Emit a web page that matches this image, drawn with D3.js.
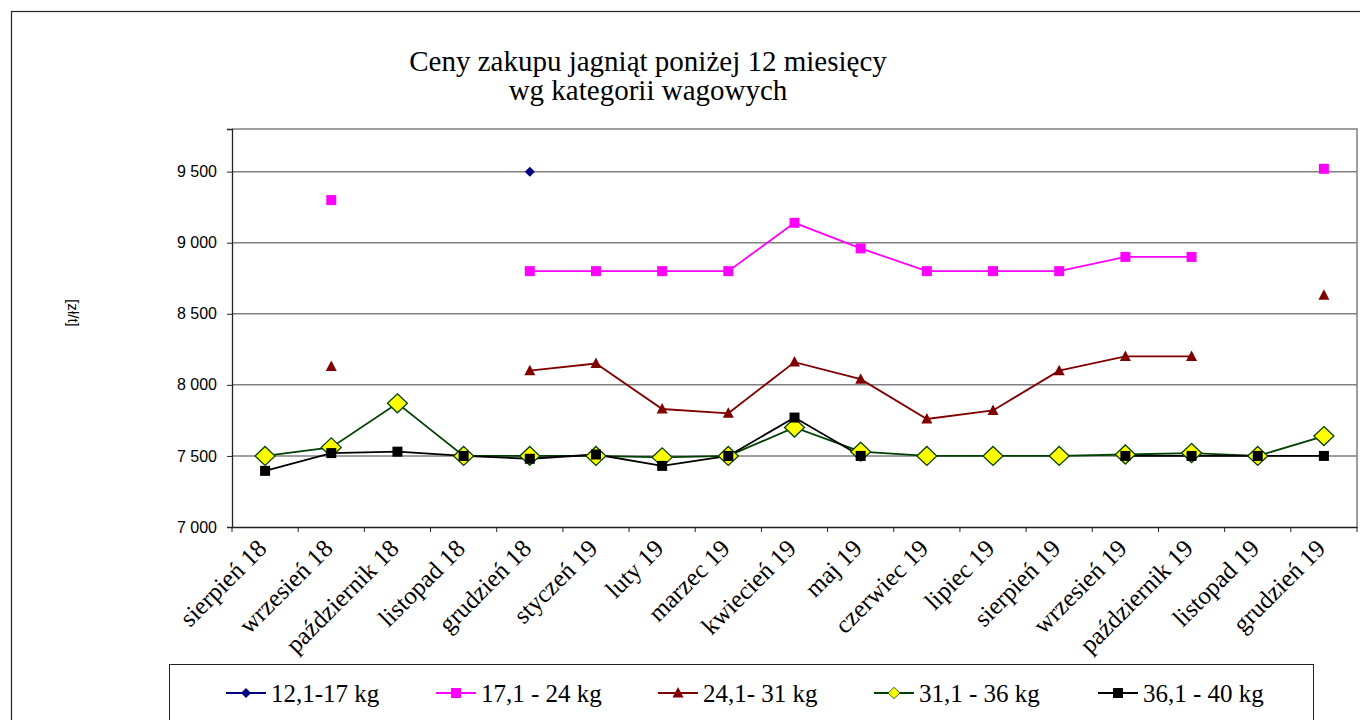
<html lang="pl">
<head>
<meta charset="utf-8">
<style>
  body { margin: 0; background: #fff; }
  svg { display: block; }
</style>
</head>
<body>
<script type='text/javascript' src='https://d3js.org/d3.v7.min.js'></script>
<script>
    // dane
    var months = ["sierpień 18", "wrzesień 18", "październik 18", "listopad 18", "grudzień 18",
        "styczeń 19", "luty 19", "marzec 19", "kwiecień 19", "maj 19", "czerwiec 19", "lipiec 19",
        "sierpień 19", "wrzesień 19", "październik 19", "listopad 19", "grudzień 19"];
    var kg12_17 = [null, null, null, null, 9500, null, null, null, null, null, null, null, null, null, null, null, null];
    var kg17_24 = [null, 9300, null, null, 8800, 8800, 8800, 8800, 9140, 8960, 8800, 8800, 8800, 8900, 8900, null, 9520];
    var kg24_31 = [null, 8130, null, null, 8100, 8150, 7830, 7800, 8160, 8040, 7760, 7820, 8100, 8200, 8200, null, 8630];
    var kg31_36 = [7500, 7560, 7870, 7500, 7500, 7500, 7490, 7500, 7700, 7530, 7500, 7500, 7500, 7510, 7520, 7500, 7640];
    var kg36_40 = [7395, 7520, 7530, 7500, 7480, 7510, 7430, 7500, 7770, 7500, null, null, null, 7500, 7500, 7500, 7500];
    var yTicks = [7000, 7500, 8000, 8500, 9000, 9500];
    var seriesNames = ["12,1-17 kg", "17,1 - 24 kg", "24,1- 31 kg", "31,1 - 36 kg", "36,1 - 40 kg"];

    var series = [
        {name: seriesNames[0], values: kg12_17, color: "#000080", marker: "diamondSmall"},
        {name: seriesNames[1], values: kg17_24, color: "#ff00ff", marker: "square"},
        {name: seriesNames[2], values: kg24_31, color: "#800000", marker: "triangle"},
        {name: seriesNames[3], values: kg31_36, color: "#004000", marker: "diamondBig"},
        {name: seriesNames[4], values: kg36_40, color: "#000000", marker: "squareBlack"}
    ];

    var serif = "'Liberation Serif', 'Times New Roman', serif";
    var sans = "'Liberation Sans', Arial, sans-serif";

    var width = 1360, height = 720;
    var plot = {left: 232, top: 129, right: 1357, bottom: 527};

    var svg = d3.select("body").append("svg")
        .attr("width", width)
        .attr("height", height);

    // ramka wykresu
    svg.append("rect")
        .attr("x", 11.5).attr("y", 11.5)
        .attr("width", 1360).attr("height", 720)
        .attr("fill", "none").attr("stroke", "#222").attr("stroke-width", 1.2);

    var x = d3.scaleBand().domain(months).range([plot.left, plot.right]);
    var y = d3.scaleLinear().domain([7000, 9800]).range([plot.bottom, plot.top]);

    // siatka
    svg.append("g").selectAll("line")
        .data(yTicks.filter(function (d) { return d > 7000; }))
        .enter().append("line")
        .attr("x1", plot.left).attr("x2", plot.right)
        .attr("y1", function (d) { return y(d); })
        .attr("y2", function (d) { return y(d); })
        .attr("stroke", "#808080").attr("stroke-width", 1.5);

    // obramowanie obszaru
    svg.append("path")
        .attr("d", "M" + plot.left + "," + plot.top + "H" + plot.right + "V" + plot.bottom)
        .attr("fill", "none").attr("stroke", "#808080").attr("stroke-width", 1.5);

    // oś Y
    var yAxis = svg.append("g")
        .attr("transform", "translate(" + plot.left + ",0)")
        .call(d3.axisLeft(y).tickValues(yTicks).tickSize(5).tickPadding(10)
            .tickFormat(function (d) { return d3.format(",")(d).replace(",", " "); }));
    yAxis.select(".domain").attr("stroke", "#222").attr("stroke-width", 1.3);
    yAxis.selectAll(".tick line").attr("stroke", "#222");
    yAxis.selectAll("text")
        .attr("font-family", sans)
        .attr("font-size", 16).attr("fill", "#000");

    // oś X
    var xAxis = svg.append("g")
        .attr("transform", "translate(0," + plot.bottom + ")")
        .call(d3.axisBottom(x).tickSize(0).tickFormat(""));
    xAxis.select(".domain").attr("stroke", "#222").attr("stroke-width", 1.3);
    xAxis.selectAll(".tick").remove();

    var bounds = months.map(function (m) { return x(m); }).concat([plot.right]);
    svg.append("g").selectAll("line")
        .data(bounds)
        .enter().append("line")
        .attr("x1", function (d) { return d; }).attr("x2", function (d) { return d; })
        .attr("y1", plot.bottom).attr("y2", plot.bottom + 5)
        .attr("stroke", "#222").attr("stroke-width", 1);

    svg.append("g").selectAll("text")
        .data(months)
        .enter().append("text")
        .attr("transform", function (d) {
            return "translate(" + (x(d) + x.bandwidth() / 2 + 3) + "," + (plot.bottom + 23) + ") rotate(-45)";
        })
        .attr("text-anchor", "end")
        .attr("font-family", serif)
        .attr("font-size", 25)
        .text(function (d) { return d; });

    // tytuł
    var title = svg.append("text")
        .attr("x", 648).attr("y", 71)
        .attr("text-anchor", "middle")
        .attr("font-family", serif)
        .attr("font-size", 29);
    title.append("tspan").attr("x", 648).attr("dy", 0).text("Ceny zakupu jagniąt poniżej 12 miesięcy");
    title.append("tspan").attr("x", 648).attr("dy", 29).text("wg kategorii wagowych");

    // opis osi Y
    svg.append("text")
        .attr("transform", "translate(68,313) rotate(90)")
        .attr("text-anchor", "middle")
        .attr("font-family", sans)
        .attr("font-size", 15)
        .text("[zł/t]");

    function drawMarker(g, type, color) {
        if (type === "square") {
            g.append("rect").attr("x", -5).attr("y", -5).attr("width", 10).attr("height", 10)
                .attr("fill", color);
        } else if (type === "squareBlack") {
            g.append("rect").attr("x", -5).attr("y", -5).attr("width", 10).attr("height", 10)
                .attr("fill", "#000");
        } else if (type === "triangle") {
            g.append("path").attr("d", "M0,-6L5.5,4.5L-5.5,4.5Z").attr("fill", color);
        } else if (type === "diamondSmall") {
            g.append("path").attr("d", "M0,-5L5,0L0,5L-5,0Z").attr("fill", color);
        } else if (type === "diamondBig") {
            g.append("path").attr("d", "M0,-9.5L10,0L0,9.5L-10,0Z")
                .attr("fill", "#ffff00").attr("stroke", color).attr("stroke-width", 1.3);
        }
    }

    var line = d3.line()
        .defined(function (d) { return d.v !== null; })
        .x(function (d) { return x(d.m) + x.bandwidth() / 2; })
        .y(function (d) { return y(d.v); });

    series.forEach(function (s) {
        var pts = s.values.map(function (v, i) { return {m: months[i], v: v}; });
        svg.append("path")
            .datum(pts)
            .attr("d", line)
            .attr("fill", "none")
            .attr("stroke", s.color)
            .attr("stroke-width", 1.8);
    });

    series.forEach(function (s) {
        var pts = s.values.map(function (v, i) { return {m: months[i], v: v}; })
            .filter(function (d) { return d.v !== null; });
        svg.append("g").selectAll("g")
            .data(pts)
            .enter().append("g")
            .attr("transform", function (d) {
                return "translate(" + (x(d.m) + x.bandwidth() / 2) + "," + y(d.v) + ")";
            })
            .each(function () { drawMarker(d3.select(this), s.marker, s.color); });
    });

    // legenda
    svg.append("rect")
        .attr("x", 169.5).attr("y", 664.5)
        .attr("width", 1144).attr("height", 80)
        .attr("fill", "#fff").attr("stroke", "#222").attr("stroke-width", 1);

    var legendX = [226, 436, 658, 874, 1098];
    var legend = svg.append("g").selectAll("g")
        .data(series)
        .enter().append("g")
        .attr("transform", function (d, i) { return "translate(" + legendX[i] + ",693)"; });
    legend.append("line")
        .attr("x1", 0).attr("x2", 40).attr("y1", 0).attr("y2", 0)
        .attr("stroke", function (d) { return d.color; })
        .attr("stroke-width", 1.8);
    legend.append("g")
        .attr("transform", "translate(20,0)")
        .each(function (d) { drawMarker(d3.select(this), d.marker, d.color); });
    legend.select("g").filter(function (d) { return d.marker === "diamondBig"; })
        .attr("transform", "translate(20,0) scale(0.6)");
    legend.append("text")
        .attr("x", 45).attr("y", 9)
        .attr("font-family", serif)
        .attr("font-size", 25)
        .text(function (d) { return d.name; });
</script>
</body>
</html>
